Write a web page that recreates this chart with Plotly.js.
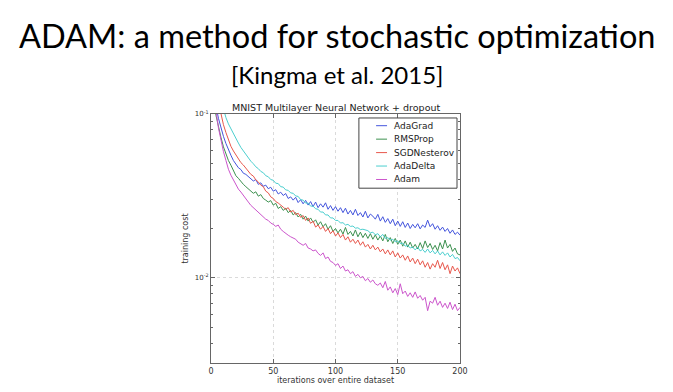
<!DOCTYPE html>
<html>
<head>
<meta charset="utf-8">
<script src="https://cdn.plot.ly/plotly-3.0.1.min.js"></script>
<style>html,body{margin:0;padding:0;background:#fff;}#chart{width:673px;height:392px;}</style>
</head>
<body>
<div id="chart"></div>
<script>
var slideTitle = "ADAM: a method for stochastic optimization";
var slideCite = "[Kingma et al. 2015]";
var chartTitle = "MNIST Multilayer Neural Network + dropout";
var xTitle = "iterations over entire dataset";
var yTitle = "training cost";

var iterations = [0,2,4,6,8,10,12,14,16,18,20,22,24,26,28,30,32,34,36,38,40,42,44,46,48,50,52,54,56,58,60,62,64,66,68,70,72,74,76,78,80,82,84,86,88,90,92,94,96,98,100,102,104,106,108,110,112,114,116,118,120,122,124,126,128,130,132,134,136,138,140,142,144,146,148,150,152,154,156,158,160,162,164,166,168,170,172,174,176,178,180,182,184,186,188,190,192,194,196,198,200];

var adaGrad = [0.2,0.14,0.112,0.094,0.082,0.073,0.066,0.060,0.056,0.052,
0.0495,0.047,0.0458,0.0435,0.0428,0.0415,0.0405,0.0390,0.0398,0.0372,
0.0380,0.0362,0.0368,0.0350,0.0357,0.0338,0.0345,0.0325,0.0333,0.0318,
0.0327,0.0305,0.0312,0.0298,0.0310,0.0288,0.0300,0.0283,0.0297,0.0278,
0.0292,0.0272,0.0290,0.0268,0.0283,0.0270,0.0287,0.0262,0.0276,0.0258,
0.0272,0.0255,0.0268,0.0250,0.0266,0.0245,0.0258,0.0242,0.0262,0.0240,
0.0250,0.0235,0.0255,0.0232,0.0245,0.0238,0.0228,0.0244,0.0222,0.0236,
0.0218,0.0230,0.0214,0.0228,0.0208,0.0222,0.0206,0.0220,0.0203,0.0216,
0.0200,0.0212,0.0202,0.0214,0.0199,0.0210,0.0203,0.0225,0.0205,0.0214,
0.0198,0.0208,0.0195,0.0204,0.0192,0.0200,0.0187,0.0196,0.0184,0.0190,
0.0182];

var rmsProp = [0.2,0.125,0.098,0.083,0.072,0.063,0.057,0.052,0.0487,0.0455,
0.042,0.0405,0.0385,0.0372,0.0360,0.0348,0.0340,0.0328,0.0335,0.0315,
0.0322,0.0305,0.0298,0.0290,0.0296,0.0278,0.0285,0.0265,0.0272,0.0258,
0.0266,0.0250,0.0258,0.0242,0.0250,0.0235,0.0244,0.0228,0.0238,0.0222,
0.0232,0.0218,0.0226,0.0210,0.0220,0.0205,0.0214,0.0198,0.0208,0.0192,
0.0200,0.0188,0.0198,0.0185,0.0203,0.0184,0.0192,0.0180,0.0196,0.0178,
0.0190,0.0176,0.0187,0.0174,0.0186,0.0172,0.0183,0.0170,0.0180,0.0168,
0.0184,0.0166,0.0176,0.0162,0.0174,0.0160,0.0170,0.0156,0.0168,0.0154,
0.0165,0.0152,0.0160,0.0150,0.0164,0.0151,0.0168,0.0153,0.0162,0.0149,
0.0158,0.0146,0.0164,0.0150,0.0170,0.0152,0.0160,0.0145,0.0152,0.0140,
0.0138];

var sgdNesterov = [0.3,0.2,0.145,0.118,0.100,0.086,0.077,0.069,0.0635,0.0595,
0.0560,0.0535,0.0505,0.0488,0.0465,0.0450,0.0428,0.0418,0.0396,0.0385,
0.0368,0.0360,0.0338,0.0330,0.0312,0.0305,0.0292,0.0286,0.0276,0.0270,
0.0262,0.0268,0.0252,0.0258,0.0243,0.0248,0.0234,0.0240,0.0224,0.0232,
0.0215,0.0222,0.0204,0.0210,0.0198,0.0206,0.0192,0.0200,0.0186,0.0194,
0.0180,0.0188,0.0176,0.0184,0.0170,0.0178,0.0165,0.0172,0.0162,0.0170,
0.0158,0.0166,0.0154,0.0160,0.0150,0.0158,0.0148,0.0154,0.0144,0.0150,
0.0140,0.0148,0.0138,0.0146,0.0134,0.0142,0.0132,0.0138,0.0128,0.0136,
0.0125,0.0132,0.0122,0.0130,0.0120,0.0127,0.0116,0.0124,0.0113,0.0122,
0.0116,0.0128,0.0114,0.0124,0.0112,0.0120,0.0106,0.0118,0.0110,0.0115,
0.0106];

var adaDelta = [0.4,0.3,0.22,0.17,0.135,0.108,0.095,0.087,0.081,0.076,
0.071,0.0665,0.0625,0.0595,0.0565,0.0545,0.0515,0.0497,0.0476,0.0464,
0.0446,0.0438,0.0420,0.0414,0.0398,0.0394,0.0378,0.0376,0.0360,0.0358,
0.0344,0.0342,0.0330,0.0328,0.0316,0.0314,0.0300,0.0298,0.0286,0.0286,
0.0274,0.0274,0.0264,0.0262,0.0252,0.0252,0.0242,0.0242,0.0232,0.0232,
0.0224,0.0224,0.0216,0.0217,0.0210,0.0212,0.0206,0.0207,0.0201,0.0202,
0.0197,0.0198,0.0196,0.0194,0.0188,0.0190,0.0183,0.0186,0.0178,0.0184,
0.0174,0.0176,0.0170,0.0172,0.0166,0.0168,0.0162,0.0163,0.0156,0.0158,
0.0152,0.0154,0.0148,0.0154,0.0146,0.0149,0.0143,0.0150,0.0142,0.0147,
0.0140,0.0146,0.0138,0.0144,0.0137,0.0142,0.0134,0.0139,0.0131,0.0133,
0.0127];

var adam = [0.25,0.15,0.105,0.082,0.068,0.059,0.052,0.046,0.0423,0.0395,
0.0370,0.0348,0.0334,0.0318,0.0300,0.0290,0.0277,0.0268,0.0258,0.0250,
0.0241,0.0236,0.0228,0.0224,0.0216,0.0212,0.0206,0.0210,0.0198,0.0192,
0.0188,0.0182,0.0178,0.0174,0.0172,0.0165,0.0162,0.0158,0.0162,0.0152,
0.0150,0.0146,0.0148,0.0141,0.0137,0.0142,0.0131,0.0134,0.0126,0.0124,
0.0119,0.0122,0.0114,0.0118,0.0110,0.0112,0.0106,0.0109,0.0102,0.0105,
0.0100,0.0102,0.0096,0.0099,0.0094,0.0097,0.0092,0.0090,0.0093,0.0087,
0.0095,0.0084,0.0088,0.0081,0.0086,0.0079,0.0092,0.0080,0.0083,0.0077,
0.0081,0.0076,0.0082,0.0075,0.0078,0.0073,0.0076,0.0063,0.0072,0.0070,
0.0076,0.0068,0.0072,0.0066,0.0070,0.0065,0.0071,0.0064,0.0069,0.0063,
0.0066];

var seriesNames = ["AdaGrad","RMSProp","SGDNesterov","AdaDelta","Adam"];
var seriesValues = [adaGrad, rmsProp, sgdNesterov, adaDelta, adam];
var seriesColors = ["#4455dd","#3d9150","#e8574c","#4ccfcf","#cc55cc"];

var xTickVals = [0,50,100,150,200];
var yTickVals = [0.01,0.1];
var yTickText = ["10<sup>-2</sup>","10<sup>-1</sup>"];
var yMinorVals = [0.004,0.005,0.006,0.007,0.008,0.009,0.02,0.03,0.04,0.05,0.06,0.07,0.08,0.09];

var traces = seriesNames.map(function(n,i){
  return {x: iterations, y: seriesValues[i], name: n, type: 'scatter', mode: 'lines',
    line: {color: seriesColors[i], width: 1}, showlegend: false};
});

/* matplotlib-style legend box (paper coordinates) */
var legX0 = 0.594, legX1 = 0.988, legY0 = 0.702, legY1 = 0.984;
var rowTop = 0.953, rowStep = 0.054;
var shapes = [{type: 'rect', xref: 'paper', yref: 'paper', x0: legX0, x1: legX1, y0: legY0, y1: legY1,
  line: {color: '#444', width: 1}, fillcolor: '#fff', layer: 'above'}];
var annotations = [];
seriesNames.forEach(function(n,i){
  var yy = rowTop - i*rowStep;
  shapes.push({type: 'line', xref: 'paper', yref: 'paper', x0: 0.663, x1: 0.707, y0: yy, y1: yy,
    line: {color: seriesColors[i], width: 1}, layer: 'above'});
  annotations.push({text: n, xref: 'paper', yref: 'paper', x: 0.727, y: yy, xanchor: 'left', yanchor: 'middle',
    showarrow: false, font: {family: 'DejaVu Sans', size: 9, color: '#222'}});
});

annotations.push(
  {text: slideTitle, xref: 'paper', yref: 'paper', x: 0.506, y: 1.316, xanchor: 'center', yanchor: 'middle',
    showarrow: false, font: {family: 'Lato', size: 32.5, color: '#000'}},
  {text: slideCite, xref: 'paper', yref: 'paper', x: 0.506, y: 1.157, xanchor: 'center', yanchor: 'middle',
    showarrow: false, font: {family: 'Lato', size: 24, color: '#000'}},
  {text: chartTitle, xref: 'paper', yref: 'paper', x: 0.5, y: 1.0, xanchor: 'center', yanchor: 'bottom',
    yshift: -1, showarrow: false, font: {family: 'DejaVu Sans', size: 9.5, color: '#222'}}
);

var axisFont = {family: 'DejaVu Sans', size: 8, color: '#333'};
var layout = {
  width: 673, height: 392,
  margin: {l: 211, r: 213, t: 114, b: 29},
  paper_bgcolor: '#fff', plot_bgcolor: '#fff',
  showlegend: false,
  xaxis: {range: [0,200], tickvals: xTickVals, ticks: 'inside', ticklen: 4,
    tickcolor: '#666', showline: true, linecolor: '#666', linewidth: 1, mirror: 'ticks',
    showgrid: true, gridcolor: '#dadada', griddash: 'dot', gridwidth: 1, zeroline: false,
    tickfont: axisFont,
    title: {text: xTitle, font: axisFont, standoff: 2}},
  yaxis: {type: 'log', range: [-2.52, -1], tickmode: 'array', tickvals: yTickVals, ticktext: yTickText,
    ticks: 'inside', ticklen: 4, tickcolor: '#666',
    showline: true, linecolor: '#666', linewidth: 1, mirror: 'ticks',
    showgrid: true, gridcolor: '#dadada', griddash: 'dot', gridwidth: 1, zeroline: false,
    tickfont: {family: 'DejaVu Sans', size: 7, color: '#333'},
    minor: {tickmode: 'array', tickvals: yMinorVals, ticks: 'inside', ticklen: 2, tickcolor: '#666', showgrid: false},
    title: {text: yTitle, font: axisFont, standoff: 4}},
  shapes: shapes,
  annotations: annotations
};

Plotly.newPlot('chart', traces, layout, {displayModeBar: false, staticPlot: true});
</script>
</body>
</html>
